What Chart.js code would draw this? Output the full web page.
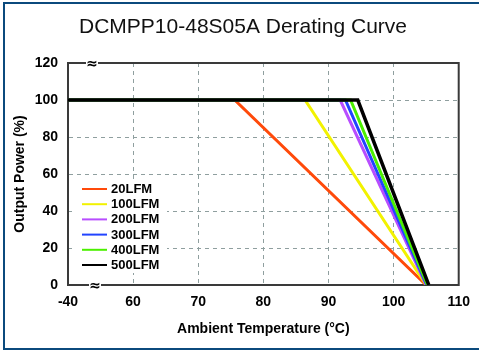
<!DOCTYPE html>
<html><head><meta charset="utf-8">
<script src="https://cdn.jsdelivr.net/npm/chart.js@4/dist/chart.umd.min.js"></script>
<style>
html,body{margin:0;padding:0;background:#fff;}
#wrap{position:relative;width:479px;height:352px;}
#frame{position:absolute;left:3px;top:2px;width:476px;height:348px;border-left:2px solid #0b4a7d;border-top:2px solid #0b4a7d;border-bottom:2px solid #0b4a7d;box-sizing:border-box;pointer-events:none;}
canvas{position:absolute;left:0;top:0;}
</style></head>
<body><div id="wrap"><canvas id="c" width="479" height="352"></canvas><div id="frame"></div></div>
<script>
// Data (ambient temperature in °C, output power in %)
const chartTitle = 'DCMPP10-48S05A Derating Curve';
const seriesLabels = ["20LFM","100LFM","200LFM","300LFM","400LFM","500LFM"];
const seriesColors = ["#ff4a0a","#f2f200","#b84dff","#2244ff","#4cf000","#000000"];
const temp20  = [-40, 75.6, 105.0];
const temp100 = [-40, 86.4, 105.0];
const temp200 = [-40, 91.8, 105.0];
const temp300 = [-40, 92.6, 105.1];
const temp400 = [-40, 93.4, 105.2];
const temp500 = [-40, 94.5, 105.4];
const power   = [100, 100, 0];
const xTicks = [-40, 60, 70, 80, 90, 100, 110];
const yTicks = [0, 20, 40, 60, 80, 100, 120];

// axis break: everything below 50 is drawn at the break position, labelled -40
const BREAK = 50;
const brk = t => (t < BREAK ? BREAK : t);
const temps = [temp20, temp100, temp200, temp300, temp400, temp500];

const datasets = temps.map((tArr, i) => ({
  label: seriesLabels[i],
  data: tArr.map((t, j) => ({x: brk(t), y: power[j]})),
  borderColor: seriesColors[i],
  backgroundColor: seriesColors[i],
  borderWidth: i === 5 ? 3.5 : 3,
  pointRadius: 0,
  tension: 0,
  fill: false,
  order: 6 - i
}));

const FAM = "'Liberation Sans', Arial, sans-serif";
const tickFont = {family: FAM, size: 14, weight: 'bold', lineHeight: 1.2};
const gridCol = '#8f9f9f';

const titlePlugin = {
  id: 'topTitle',
  afterDraw(chart) {
    const ctx = chart.ctx;
    ctx.save();
    ctx.font = "21px " + FAM;
    ctx.fillStyle = '#111';
    ctx.textAlign = 'center'; ctx.textBaseline = 'middle';
    ctx.fillText(chartTitle, 243, 27);
    ctx.restore();
  }
};

const legendPlugin = {
  id: 'innerLegend',
  afterDatasetsDraw(chart) {
    const ctx = chart.ctx;
    const x0 = 82, y0 = 189, step = 15.2;
    ctx.save();
    ctx.fillStyle = '#fff';
    ctx.fillRect(72, 180, 95, 93);
    ctx.font = "bold 13px " + FAM;
    ctx.textBaseline = 'middle';
    chart.data.datasets.forEach((ds, i) => {
      const y = y0 + i * step;
      ctx.strokeStyle = ds.borderColor;
      ctx.lineWidth = 2;
      ctx.beginPath(); ctx.moveTo(x0, y); ctx.lineTo(x0 + 25, y); ctx.stroke();
      ctx.fillStyle = '#000';
      ctx.fillText(ds.label, x0 + 29, y + 0.5);
    });
    ctx.restore();
  }
};

const breakPlugin = {
  id: 'breakMarks',
  afterDraw(chart) {
    const ctx = chart.ctx, a = chart.chartArea;
    ctx.save();
    ctx.font = "bold 14px 'DejaVu Sans', sans-serif";
    ctx.textAlign = 'center'; ctx.textBaseline = 'middle';
    [[92, a.top], [95, a.bottom]].forEach(([x, y]) => {
      ctx.fillStyle = '#fff';
      ctx.fillRect(x - 6, y - 3, 12, 6);
      ctx.fillStyle = '#000';
      ctx.fillText('\u2248', x, y + 1);
    });
    ctx.restore();
  }
};

new Chart(document.getElementById('c'), {
  type: 'line',
  data: {datasets},
  options: {
    responsive: false,
    animation: false,
    events: [],
    layout: {padding: {left: 0, right: 17, top: 63, bottom: 10}},
    plugins: {
      legend: {display: false},
      tooltip: {enabled: false},
      title: {display: false}
    },
    scales: {
      x: {
        type: 'linear',
        min: brk(xTicks[0]), max: xTicks[xTicks.length - 1],
        afterBuildTicks: s => { s.ticks = xTicks.map(v => ({value: brk(v)})); },
        afterFit: s => { s.height = 57; },
        ticks: {
          color: '#000', font: tickFont, padding: 9, maxRotation: 0,
          callback: v => (v === BREAK ? String(xTicks[0]) : String(v))
        },
        grid: {
          drawTicks: false,
          color: c => (c.tick && (c.tick.value === BREAK || c.tick.value === 110) ? 'rgba(0,0,0,0)' : gridCol),
          lineWidth: 1
        },
        border: {display: true, color: '#3a3a3a', width: 2, dash: [4, 4]},
        title: {
          display: true, text: 'Ambient Temperature (°C)', color: '#000',
          font: {family: FAM, size: 14, weight: 'bold', lineHeight: 1.2},
          padding: {top: 4, bottom: 4}
        }
      },
      y: {
        min: 0, max: 120,
        afterBuildTicks: s => { s.ticks = yTicks.map(v => ({value: v})); },
        afterFit: s => { s.width = 68; },
        ticks: {color: '#000', font: tickFont, padding: 10},
        grid: {
          drawTicks: false,
          color: c => (c.tick && (c.tick.value === 0 || c.tick.value === 120) ? 'rgba(0,0,0,0)' : gridCol),
          lineWidth: 1
        },
        border: {display: true, color: '#3a3a3a', width: 2, dash: [4, 4]},
        title: {
          display: true, text: 'Output Power (%)', color: '#000',
          font: {family: FAM, size: 14, weight: 'bold', lineHeight: 1.2},
          padding: {top: 12, bottom: 4}
        }
      }
    }
  },
  plugins: [{
    id: 'plotFrame',
    beforeDatasetsDraw(chart) {
      const ctx = chart.ctx, a = chart.chartArea;
      ctx.save();
      ctx.strokeStyle = '#3a3a3a'; ctx.lineWidth = 2;
      ctx.strokeRect(a.left, a.top, a.right - a.left, a.bottom - a.top);
      ctx.restore();
    }
  }, legendPlugin, breakPlugin, titlePlugin]
});
</script>
</body></html>
